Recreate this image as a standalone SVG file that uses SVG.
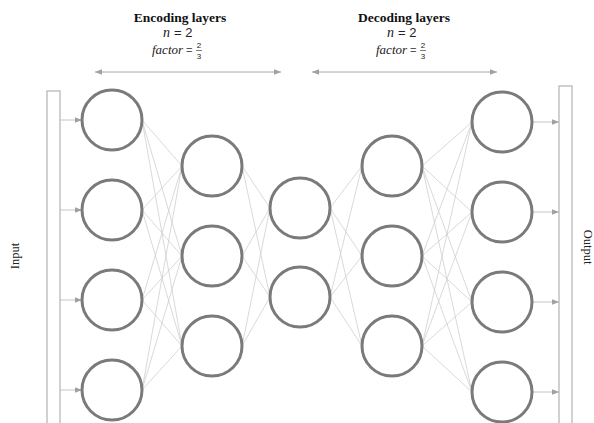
<svg xmlns="http://www.w3.org/2000/svg" width="594" height="423" viewBox="0 0 594 423">
  <style>
    .neuron { fill: #fff; stroke: #7a7a7a; stroke-width: 3; }
    .edge { stroke: #cfcfcf; stroke-width: 0.8; fill: none; }
    .io { stroke: #c4c4c4; stroke-width: 1; fill: none; }
    .bar { fill: #fff; stroke: #b8b8b8; stroke-width: 1.3; }
    .span { stroke: #a8a8a8; stroke-width: 1; fill: none; }
    .title { font-family: "Liberation Serif", serif; font-weight: bold; font-size: 13.5px; text-anchor: middle; fill: #111; }
    .math { font-family: "Liberation Serif", serif; font-style: italic; font-size: 14px; fill: #222; }
    .mathsm { font-family: "Liberation Serif", serif; font-style: italic; font-size: 13px; fill: #222; }
    .num { font-family: "Liberation Sans", sans-serif; font-size: 13px; fill: #222; }
    .eq { font-family: "Liberation Sans", sans-serif; font-size: 11px; fill: #555; }
    .frac { font-family: "Liberation Sans", sans-serif; font-size: 8px; text-anchor: middle; fill: #222; }
    .side { font-family: "Liberation Serif", serif; font-size: 12.5px; text-anchor: middle; fill: #222; }
  </style>
  <defs>
    <marker id="tip" viewBox="0 0 10 10" refX="10" refY="5" markerWidth="7" markerHeight="7" markerUnits="userSpaceOnUse" orient="auto-start-reverse">
      <path d="M0,1 L10,5 L0,9 z" fill="#a0a0a0"/>
    </marker>
  </defs>

  <!-- layer annotations -->
  <g id="encoding-label">
    <text class="title" x="180" y="22">Encoding layers</text>
    <text class="math" x="163" y="37">n</text>
    <text class="num" x="174" y="37">= 2</text>
    <text class="mathsm" x="152" y="54">factor</text>
    <text class="eq" x="186" y="54">=</text>
    <text class="frac" x="199" y="48">2</text>
    <line x1="196" y1="50.5" x2="202" y2="50.5" stroke="#222" stroke-width="0.6"/>
    <text class="frac" x="199" y="59">3</text>
    <line class="span" x1="95" y1="72" x2="281" y2="72" marker-start="url(#tip)" marker-end="url(#tip)"/>
  </g>
  <g id="decoding-label">
    <text class="title" x="404" y="22">Decoding layers</text>
    <text class="math" x="387" y="37">n</text>
    <text class="num" x="398" y="37">= 2</text>
    <text class="mathsm" x="376" y="54">factor</text>
    <text class="eq" x="410" y="54">=</text>
    <text class="frac" x="423" y="48">2</text>
    <line x1="420" y1="50.5" x2="426" y2="50.5" stroke="#222" stroke-width="0.6"/>
    <text class="frac" x="423" y="59">3</text>
    <line class="span" x1="312" y1="72" x2="497" y2="72" marker-start="url(#tip)" marker-end="url(#tip)"/>
  </g>

  <!-- connectors -->
  <g id="connectors">
    <!-- input bar to first layer -->
    <line class="io" x1="60" y1="120" x2="82" y2="120" marker-end="url(#tip)"/>
    <line class="io" x1="60" y1="210" x2="82" y2="210" marker-end="url(#tip)"/>
    <line class="io" x1="60" y1="300" x2="82" y2="300" marker-end="url(#tip)"/>
    <line class="io" x1="60" y1="390" x2="82" y2="390" marker-end="url(#tip)"/>
    <!-- layer 1 to layer 2 -->
    <path class="edge" d="M142,120 L182,166 M142,120 L182,256 M142,120 L182,346
      M142,210 L182,166 M142,210 L182,256 M142,210 L182,346
      M142,300 L182,166 M142,300 L182,256 M142,300 L182,346
      M142,390 L182,166 M142,390 L182,256 M142,390 L182,346"/>
    <!-- layer 2 to layer 3 -->
    <path class="edge" d="M242,166 L270,208 M242,166 L270,297
      M242,256 L270,208 M242,256 L270,297
      M242,346 L270,208 M242,346 L270,297"/>
    <!-- layer 3 to layer 4 -->
    <path class="edge" d="M330,208 L362,166 M330,208 L362,256 M330,208 L362,346
      M330,297 L362,166 M330,297 L362,256 M330,297 L362,346"/>
    <!-- layer 4 to layer 5 -->
    <path class="edge" d="M422,166 L472,122 M422,166 L472,212 M422,166 L472,302 M422,166 L472,392
      M422,256 L472,122 M422,256 L472,212 M422,256 L472,302 M422,256 L472,392
      M422,346 L472,122 M422,346 L472,212 M422,346 L472,302 M422,346 L472,392"/>
    <!-- last layer to output bar -->
    <line class="io" x1="533" y1="122" x2="559" y2="122" marker-end="url(#tip)"/>
    <line class="io" x1="533" y1="212" x2="559" y2="212" marker-end="url(#tip)"/>
    <line class="io" x1="533" y1="302" x2="559" y2="302" marker-end="url(#tip)"/>
    <line class="io" x1="533" y1="392" x2="559" y2="392" marker-end="url(#tip)"/>
  </g>

  <!-- input / output bars -->
  <g id="input">
    <rect class="bar" x="47" y="91" width="13" height="340"/>
    <text class="side" transform="translate(19,256) rotate(-90)">Input</text>
  </g>
  <g id="output">
    <rect class="bar" x="559" y="86" width="13" height="345"/>
    <text class="side" transform="translate(584,247) rotate(90)">Output</text>
  </g>

  <!-- neurons -->
  <g id="l1-n1"><circle class="neuron" cx="112" cy="120" r="30"/></g>
  <g id="l1-n2"><circle class="neuron" cx="112" cy="210" r="30"/></g>
  <g id="l1-n3"><circle class="neuron" cx="112" cy="300" r="30"/></g>
  <g id="l1-n4"><circle class="neuron" cx="112" cy="390" r="30"/></g>

  <g id="l2-n1"><circle class="neuron" cx="212" cy="166" r="30"/></g>
  <g id="l2-n2"><circle class="neuron" cx="212" cy="256" r="30"/></g>
  <g id="l2-n3"><circle class="neuron" cx="212" cy="346" r="30"/></g>

  <g id="l3-n1"><circle class="neuron" cx="300" cy="208" r="30"/></g>
  <g id="l3-n2"><circle class="neuron" cx="300" cy="297" r="30"/></g>

  <g id="l4-n1"><circle class="neuron" cx="392" cy="166" r="30"/></g>
  <g id="l4-n2"><circle class="neuron" cx="392" cy="256" r="30"/></g>
  <g id="l4-n3"><circle class="neuron" cx="392" cy="346" r="30"/></g>

  <g id="l5-n1"><circle class="neuron" cx="502" cy="122" r="30"/></g>
  <g id="l5-n2"><circle class="neuron" cx="502" cy="212" r="30"/></g>
  <g id="l5-n3"><circle class="neuron" cx="502" cy="302" r="30"/></g>
  <g id="l5-n4"><circle class="neuron" cx="502" cy="392" r="30"/></g>
</svg>
